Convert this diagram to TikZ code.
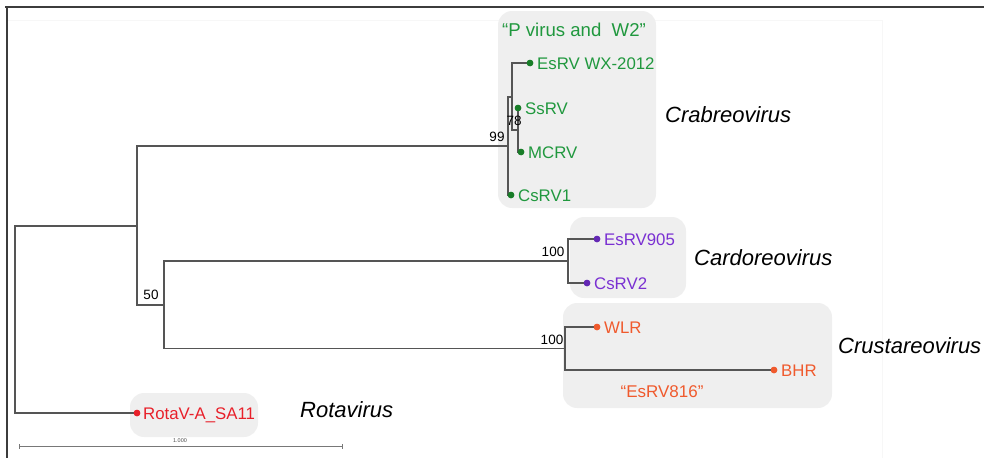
\documentclass[tikz,border=0pt]{standalone}
\usepackage{fontspec}
\setmainfont{Liberation Sans}
\definecolor{cgreen}{RGB}{32,152,62}
\definecolor{cgreendot}{RGB}{24,125,40}
\definecolor{cpurple}{RGB}{122,48,210}
\definecolor{cpurpledot}{RGB}{100,40,180}
\definecolor{corange}{RGB}{240,90,45}
\definecolor{cred}{RGB}{232,32,42}
\definecolor{cbox}{RGB}{239,239,239}
\definecolor{cline}{RGB}{85,85,85}
\definecolor{cframe}{RGB}{60,60,60}
\definecolor{cpanel}{RGB}{247,247,247}
\definecolor{cscale}{RGB}{120,120,120}
\tikzset{
  clade/.style={fill=cbox, draw=none, rounded corners=14pt},
  branch/.style={draw=cline, line width=1.2pt},
  leafdot/.style={circle, inner sep=0pt, minimum size=6.5pt},
  leaf/.style={anchor=base west, inner sep=0pt, font=\fontsize{16.8}{19}\selectfont},
  boot/.style={inner sep=0pt, font=\fontsize{13.5}{15}\selectfont, text=black},
  genus/.style={inner sep=0pt, font=\fontsize{22}{24}\selectfont\itshape, text=black},
  scalebar/.style={draw=cscale, line width=1pt},
}
\begin{document}
\begin{tikzpicture}[x=1pt, y=-1pt]
\useasboundingbox (0,0) rectangle (984,458);
% faint panel
\draw[draw=cpanel, line width=0.8pt] (7,20) -- (882,20) -- (882,458);
% clade boxes
\fill[clade] (498,11) rectangle (656,208);
\fill[clade] (570,217) rectangle (686,298);
\fill[clade] (563,303) rectangle (832,408);
\fill[clade] (130,393) rectangle (258,437);
% frame
\draw[cframe, line width=2pt] (5,7) -- (984,7);
\draw[cframe, line width=2pt] (7,6) -- (7,458);
% internal nodes
\coordinate (R) at (15,319.5);
\coordinate (A) at (137,226);
\coordinate (B) at (164,305);
\coordinate (C) at (508,146);
\coordinate (D) at (512,97);
\coordinate (E) at (518,130);
\coordinate (F) at (568,261);
\coordinate (G) at (565,348.5);
% leaf dots
\node[leafdot, fill=cgreendot] (l1) at (530,63) {};
\node[leafdot, fill=cgreendot] (l2) at (518,108) {};
\node[leafdot, fill=cgreendot] (l3) at (521,152) {};
\node[leafdot, fill=cgreendot] (l4) at (511,195) {};
\node[leafdot, fill=cpurpledot] (l5) at (597,239) {};
\node[leafdot, fill=cpurpledot] (l6) at (587,283) {};
\node[leafdot, fill=corange] (l7) at (597,327) {};
\node[leafdot, fill=corange] (l8) at (774,370) {};
\node[leafdot, fill=cred] (l9) at (137,413) {};
% branches
\draw[branch] (R) |- (A);
\draw[branch] (R) |- (l9.center);
\draw[branch] (A) |- (C);
\draw[branch] (A) |- (B);
\draw[branch] (B) |- (F);
\draw[branch] (B) |- (G);
\draw[branch] (C) |- (D);
\draw[branch] (C) |- (l4.center);
\draw[branch] (D) |- (l1.center);
\draw[branch] (D) |- (E);
\draw[branch] (E) |- (l2.center);
\draw[branch] (E) |- (l3.center);
\draw[branch] (F) |- (l5.center);
\draw[branch] (F) |- (l6.center);
\draw[branch] (G) |- (l7.center);
\draw[branch] (G) |- (l8.center);
% redraw dots on top
\foreach \n/\c in {l1/cgreendot,l2/cgreendot,l3/cgreendot,l4/cgreendot,l5/cpurpledot,l6/cpurpledot,l7/corange,l8/corange,l9/cred}
  \fill[\c] (\n.center) circle (3.25pt);
% leaf labels
\node[leaf, text=cgreen] (t1) at (537,69) {EsRV WX-2012};
\node[leaf, text=cgreen] (t2) at (525,114) {SsRV};
\node[leaf, text=cgreen] (t3) at (528,158) {MCRV};
\node[leaf, text=cgreen] (t4) at (518,201) {CsRV1};
\node[leaf, text=cpurple] (t5) at (604,245) {EsRV905};
\node[leaf, text=cpurple] (t6) at (594,289) {CsRV2};
\node[leaf, text=corange] (t7) at (604,333) {WLR};
\node[leaf, text=corange] (t8) at (781,376) {BHR};
\node[leaf, text=cred] (t9) at (143,419) {RotaV-A\_SA11};
% clade annotations
\node[inner sep=0pt, text=cgreen, font=\fontsize{18.6}{20}\selectfont] (q1) at (574,30) {“P virus and\ \ W2”};
\node[inner sep=0pt, text=corange, font=\fontsize{17}{19}\selectfont] (q2) at (662,392) {“EsRV816”};
% bootstrap values
\node[boot] (b99) at (497,137) {99};
\node[boot] (b78) at (514,121) {78};
\node[boot] (b100a) at (553,252) {100};
\node[boot] (b100b) at (552,340) {100};
\node[boot] (b50) at (151,295) {50};
% genus labels
\node[genus, anchor=west] (g1) at (665,115) {Crabreovirus};
\node[genus, anchor=west] (g2) at (694,258) {Cardoreovirus};
\node[genus, anchor=west] (g3) at (838,346) {Crustareovirus};
\node[genus, anchor=west] (g4) at (300,410) {Rotavirus};
% scale bar
\coordinate (s1) at (19,446);
\coordinate (s2) at (342,446);
\draw[scalebar] (s1) -- (s2);
\draw[scalebar] ([yshift=-2.5pt]s1) -- ([yshift=2.5pt]s1);
\draw[scalebar] ([yshift=-2.5pt]s2) -- ([yshift=2.5pt]s2);
\node[inner sep=0pt, font=\fontsize{5.5}{6}\selectfont, text=black!70] (sl) at (180,441) {1.000};
\end{tikzpicture}
\end{document}
